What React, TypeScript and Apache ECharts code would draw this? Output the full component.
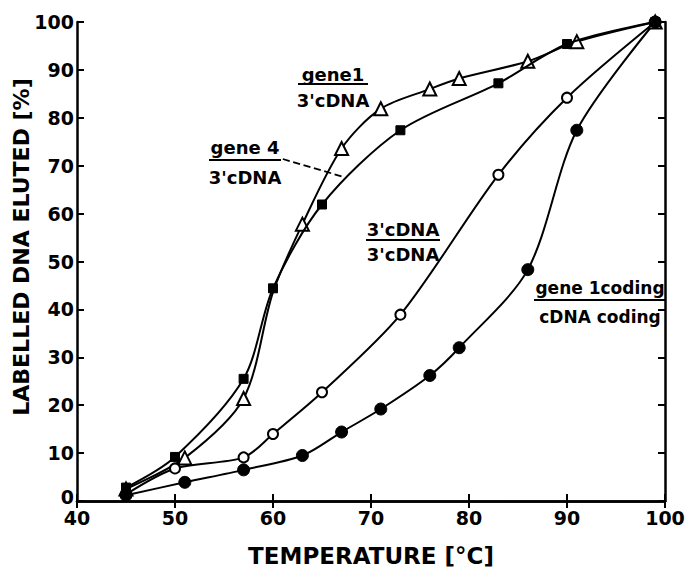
import React, { useEffect, useRef } from "react";
import * as echarts from "echarts";

const TEMP_GENE1 = [45, 51, 57, 60, 63, 67, 71, 76, 79, 86, 91, 99];
const GENE1_3CDNA = [2.5, 9, 21.4, 43.6, 57.8, 73.6, 81.9, 86, 88.2, 91.8, 95.9, 100];
// the gene1 curve passes through the gene4 square at 60 °C without a marker of its own
const GENE1_UNMARKED = [60];

const TEMP_GENE4 = [45, 50, 57, 60, 65, 73, 83, 90, 99];
const GENE4_3CDNA = [2.8, 9.2, 25.5, 44.4, 61.9, 77.4, 87.2, 95.4, 100];

const TEMP_3CDNA = [45, 50, 57, 60, 65, 73, 83, 90, 99];
const CDNA_3CDNA = [1.4, 6.8, 9.1, 14, 22.7, 38.9, 68.1, 84.2, 100];

const TEMP_CODING = [45, 51, 57, 63, 67, 71, 76, 79, 86, 91, 99];
const GENE1_CODING = [1.2, 3.9, 6.5, 9.5, 14.4, 19.2, 26.2, 32, 48.3, 77.4, 100];

const ARROW_FROM = [61.0, 71.4];
const ARROW_TO = [67.3, 67.6];

const FONT = "DejaVu Sans";

function pairs(xs: number[], ys: number[]) {
  return xs.map((x, i) => [x, ys[i]]);
}

function fraction(cx: number, top: string, bottom: string, yTop: number, yLine: number, yBot: number, lineW: number, size: number) {
  return {
    type: "group",
    children: [
      {
        type: "text",
        x: cx,
        y: yTop,
        style: { text: top, fill: "#000", font: `bold ${size}px "${FONT}"`, align: "center", verticalAlign: "middle" },
      },
      {
        type: "line",
        shape: { x1: cx - lineW / 2, y1: yLine, x2: cx + lineW / 2, y2: yLine },
        style: { stroke: "#000", lineWidth: 2 },
      },
      {
        type: "text",
        x: cx,
        y: yBot,
        style: { text: bottom, fill: "#000", font: `bold ${size}px "${FONT}"`, align: "center", verticalAlign: "middle" },
      },
    ],
  };
}

export default function App() {
  const ref = useRef<HTMLDivElement>(null);
  useEffect(() => {
    if (!ref.current) return;
    const chart = echarts.init(ref.current, undefined, { renderer: "svg" });
    const axisLine = { show: true, lineStyle: { color: "#000", width: 2.5 } };
    const axisTick = { show: true, inside: true, length: 7, lineStyle: { color: "#000", width: 2 } };
    const label = { color: "#000", fontFamily: FONT, fontWeight: "bold" as const, fontSize: 19 };
    const lineBase = { type: "line", smooth: 0.3, lineStyle: { color: "#000", width: 2 }, z: 3 };
    const gene1Data = TEMP_GENE1.map((x, i) =>
      GENE1_UNMARKED.includes(x) ? { value: [x, GENE1_3CDNA[i]], symbol: "none" } : [x, GENE1_3CDNA[i]]
    );
    chart.setOption({
      animation: false,
      backgroundColor: "#fff",
      grid: { left: 77, right: 25, top: 22, bottom: 65, containLabel: false },
      xAxis: [
        {
          type: "value", min: 40, max: 100, interval: 10, position: "bottom",
          axisLine, axisTick, splitLine: { show: false },
          axisLabel: { ...label, margin: 7 },
          name: "TEMPERATURE [°C]", nameLocation: "middle", nameGap: 43,
          nameTextStyle: { color: "#000", fontFamily: FONT, fontWeight: "bold", fontSize: 23 },
        },
        {
          type: "value", min: 40, max: 100, interval: 10, position: "top",
          axisLine, axisTick, splitLine: { show: false }, axisLabel: { show: false },
        },
      ],
      yAxis: [
        {
          type: "value", min: 0, max: 100, interval: 10, position: "left",
          axisLine, axisTick, splitLine: { show: false },
          axisLabel: {
            ...label, margin: 3,
            formatter: (v: number) => (v === 0 ? "{z|0}" : String(v)),
            rich: { z: { ...label, padding: [0, 0, 8, 0] } },
          },
        },
        {
          type: "value", min: 0, max: 100, interval: 10, position: "right",
          axisLine, axisTick, splitLine: { show: false }, axisLabel: { show: false },
        },
      ],
      series: [
        {
          ...lineBase, name: "gene1 / 3'cDNA", data: gene1Data,
          symbol: "triangle", symbolSize: 13,
          itemStyle: { color: "#fff", borderColor: "#000", borderWidth: 2 },
        },
        {
          ...lineBase, name: "gene4 / 3'cDNA", data: pairs(TEMP_GENE4, GENE4_3CDNA),
          symbol: "rect", symbolSize: 9, z: 4,
          itemStyle: { color: "#000", borderColor: "#000", borderWidth: 1 },
          markLine: {
            silent: true, symbol: ["none", "arrow"], symbolSize: [0, 12],
            label: { show: false },
            lineStyle: { type: "dashed", color: "#000", width: 1.8 },
            data: [[{ coord: ARROW_FROM }, { coord: ARROW_TO }]],
          },
        },
        {
          ...lineBase, name: "3'cDNA / 3'cDNA", data: pairs(TEMP_3CDNA, CDNA_3CDNA),
          symbol: "circle", symbolSize: 10,
          itemStyle: { color: "#fff", borderColor: "#000", borderWidth: 2 },
        },
        {
          ...lineBase, name: "gene 1coding / cDNA coding", data: pairs(TEMP_CODING, GENE1_CODING),
          symbol: "circle", symbolSize: 12,
          itemStyle: { color: "#000", borderColor: "#000", borderWidth: 1 },
        },
      ],
      graphic: [
        {
          type: "text", x: 21, y: 247, rotation: Math.PI / 2,
          style: { text: "LABELLED DNA ELUTED [%]", fill: "#000", font: `bold 22px "${FONT}"`, align: "center", verticalAlign: "middle" },
        },
        fraction(333, "gene1", "3'cDNA", 74, 84, 100, 70, 18),
        fraction(245, "gene 4", "3'cDNA", 147, 160, 177, 72, 18),
        fraction(403, "3'cDNA", "3'cDNA", 229, 240, 254, 74, 18),
        fraction(600, "gene 1coding", "cDNA coding", 288, 300, 317, 132, 17),
      ],
    });
    return () => chart.dispose();
  }, []);
  return <div ref={ref} style={{ position: "fixed", left: 0, top: 0, width: 690, height: 572 }} />;
}
